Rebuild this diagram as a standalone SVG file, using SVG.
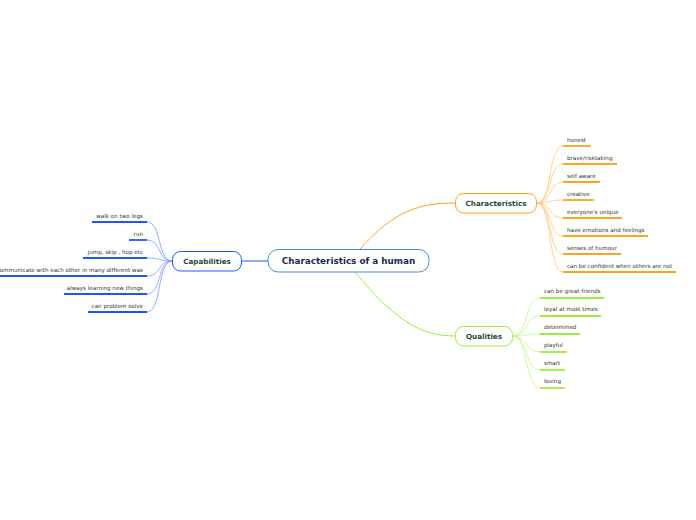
<svg xmlns="http://www.w3.org/2000/svg" width="696" height="520" viewBox="0 0 696 520">
<style>
.leaf{font-family:"DejaVu Sans",Verdana,sans-serif;font-size:5.6px;fill:#333}
.sub{font-family:"DejaVu Sans",Verdana,sans-serif;font-size:7.2px;font-weight:bold;fill:#1d4a3a}
.main{font-family:"DejaVu Sans",Verdana,sans-serif;font-size:8.8px;font-weight:bold;fill:#1c2a4e}
.o{stroke:#ffa31a}.g{stroke:#99f03a}.b{stroke:#1f55ff}
.thin{fill:none;stroke-width:0.8;opacity:0.6}
.ul{fill:none;stroke-width:1.8}
</style>
<rect width="696" height="520" fill="#fff"/>
<g id="connectors">
<line x1="242" y1="261" x2="268" y2="261" class="b" stroke-width="1"/>
<path d="M360 249 C395 210 420 203 455 203" class="o" fill="none" stroke-width="1"/>
<path d="M355 272 C395 320 420 336 455 336" class="g" fill="none" stroke-width="1"/>
<g class="thin o">
<path d="M537 203 C552 203 548 146 563 146"/>
<path d="M537 203 C552 203 548 164 563 164"/>
<path d="M537 203 C552 203 548 182 563 182"/>
<path d="M537 203 C552 203 548 200 563 200"/>
<path d="M537 203 C552 203 548 218 563 218"/>
<path d="M537 203 C552 203 548 236 563 236"/>
<path d="M537 203 C552 203 548 254 563 254"/>
<path d="M537 203 C552 203 548 272 563 272"/>
</g>
<g class="thin g">
<path d="M513 336 C528 336 525 298 540 298"/>
<path d="M513 336 C528 336 525 316 540 316"/>
<path d="M513 336 C528 336 525 334 540 334"/>
<path d="M513 336 C528 336 525 352 540 352"/>
<path d="M513 336 C528 336 525 370 540 370"/>
<path d="M513 336 C528 336 525 388 540 388"/>
</g>
<g class="thin b">
<path d="M172 261 C157 261 162 222 147 222"/>
<path d="M172 261 C157 261 162 240 147 240"/>
<path d="M172 261 C157 261 162 258 147 258"/>
<path d="M172 261 C157 261 162 276 147 276"/>
<path d="M172 261 C157 261 162 294 147 294"/>
<path d="M172 261 C157 261 162 312 147 312"/>
</g>
</g>
<g id="central">
<rect x="268" y="249.5" width="161" height="22.5" rx="10" fill="#fff" stroke="#4a8fd6" stroke-width="1"/>
<text x="348.5" y="264" text-anchor="middle" class="main">Characteristics of a human</text>
</g>
<g id="capabilities">
<rect x="172.5" y="251.5" width="69" height="19.5" rx="8" fill="#fff" class="b" stroke-width="1"/>
<text x="207" y="264" text-anchor="middle" class="sub">Capabilities</text>
</g>
<g id="characteristics">
<rect x="455.5" y="193.5" width="81" height="19.5" rx="8" fill="#fff" class="o" stroke-width="1"/>
<text x="496" y="206" text-anchor="middle" class="sub">Characteristics</text>
</g>
<g id="qualities">
<rect x="455.5" y="326.5" width="57" height="19.5" rx="8" fill="#fff" class="g" stroke-width="1"/>
<text x="484" y="339" text-anchor="middle" class="sub">Qualities</text>
</g>
<g id="char-leaves">
<g id="honest"><line x1="563" y1="146" x2="591" y2="146" class="ul o"/><text x="567" y="142" class="leaf">honest</text></g>
<g id="brave"><line x1="563" y1="164" x2="617" y2="164" class="ul o"/><text x="567" y="160" class="leaf">brave/risktaking</text></g>
<g id="selfaware"><line x1="563" y1="182" x2="600" y2="182" class="ul o"/><text x="567" y="178" class="leaf">self aware</text></g>
<g id="creative"><line x1="563" y1="200" x2="594" y2="200" class="ul o"/><text x="567" y="196" class="leaf">creative</text></g>
<g id="unique"><line x1="563" y1="218" x2="622" y2="218" class="ul o"/><text x="567" y="214" class="leaf">everyone's unique</text></g>
<g id="emotions"><line x1="563" y1="236" x2="648" y2="236" class="ul o"/><text x="567" y="232" class="leaf">have emotions and feelings</text></g>
<g id="humour"><line x1="563" y1="254" x2="621" y2="254" class="ul o"/><text x="567" y="250" class="leaf">senses of humour</text></g>
<g id="confident"><line x1="563" y1="272" x2="676" y2="272" class="ul o"/><text x="567" y="268" class="leaf">can be confident when others are not</text></g>
</g>
<g id="qual-leaves">
<g id="friends"><line x1="540" y1="298" x2="604" y2="298" class="ul g"/><text x="544" y="293" class="leaf">can  be great friends</text></g>
<g id="loyal"><line x1="540" y1="316" x2="601" y2="316" class="ul g"/><text x="544" y="311" class="leaf">loyal at most times</text></g>
<g id="determined"><line x1="540" y1="334" x2="580" y2="334" class="ul g"/><text x="544" y="329" class="leaf">determined</text></g>
<g id="playful"><line x1="540" y1="352" x2="567" y2="352" class="ul g"/><text x="544" y="347" class="leaf">playful</text></g>
<g id="smart"><line x1="540" y1="370" x2="565" y2="370" class="ul g"/><text x="544" y="365" class="leaf">smart</text></g>
<g id="loving"><line x1="540" y1="388" x2="565" y2="388" class="ul g"/><text x="544" y="383" class="leaf">loving</text></g>
</g>
<g id="cap-leaves">
<g id="walk"><line x1="92" y1="222" x2="147" y2="222" class="ul b"/><text x="143" y="218" text-anchor="end" class="leaf">walk on two legs</text></g>
<g id="run"><line x1="129" y1="240" x2="147" y2="240" class="ul b"/><text x="143" y="236" text-anchor="end" class="leaf">run</text></g>
<g id="jump"><line x1="83" y1="258" x2="147" y2="258" class="ul b"/><text x="143" y="254" text-anchor="end" class="leaf">jump, skip , hop etc</text></g>
<g id="communicate"><line x1="0" y1="276" x2="147" y2="276" class="ul b"/><text x="143" y="272" text-anchor="end" class="leaf">communicate with each other  in many different was</text></g>
<g id="learning"><line x1="64" y1="294" x2="147" y2="294" class="ul b"/><text x="143" y="290" text-anchor="end" class="leaf">always learning new things</text></g>
<g id="problem"><line x1="88" y1="312" x2="147" y2="312" class="ul b"/><text x="143" y="308" text-anchor="end" class="leaf">can problem solve</text></g>
</g>
</svg>
